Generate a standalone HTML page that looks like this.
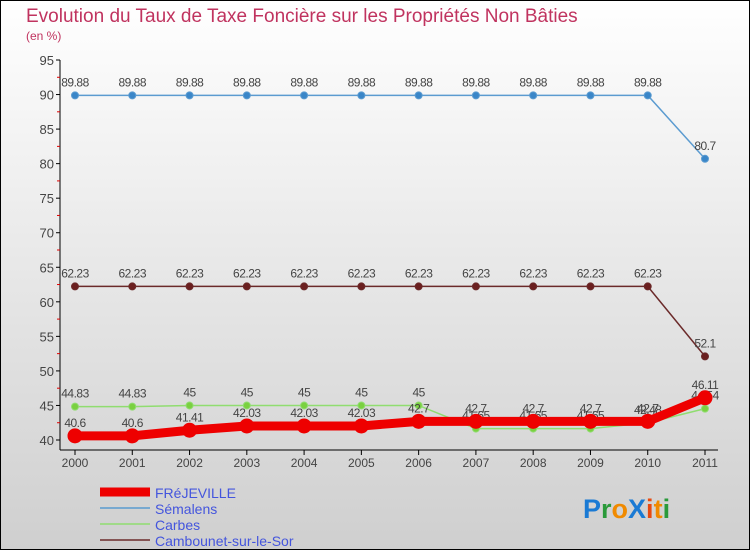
<!DOCTYPE html>
<html><head><meta charset="utf-8"><style>
body{margin:0}
svg text{font-family:"Liberation Sans",sans-serif}
</style></head><body>
<svg width="750" height="550" xmlns="http://www.w3.org/2000/svg">
<defs><linearGradient id="bg" x1="0" y1="0" x2="0" y2="1"><stop offset="0" stop-color="#ffffff"/><stop offset="1" stop-color="#cfcfcf"/></linearGradient></defs>
<rect x="0.5" y="0.5" width="749" height="549" fill="url(#bg)" stroke="#000"/>
<text x="26" y="22" font-size="19" fill="#c0335f">Evolution du Taux de Taxe Foncière sur les Propriétés Non Bâties</text>
<text x="26" y="40" font-size="12" fill="#c0335f">(en %)</text>
<g id="axes"></g>
<g id="series"></g>
<g id="legend"></g>
<text x="583" y="518" font-size="27" font-weight="bold"><tspan fill="#1a7ad4">P</tspan><tspan fill="#2a9a3a">r</tspan><tspan fill="#f08a00">o</tspan><tspan fill="#1a7ad4">X</tspan><tspan fill="#e84a10">i</tspan><tspan fill="#f08a00">t</tspan><tspan fill="#2a9a3a">i</tspan></text>
</svg>
<script>
const years=[2000,2001,2002,2003,2004,2005,2006,2007,2008,2009,2010,2011];
const yTicks=[40,45,50,55,60,65,70,75,80,85,90,95];
const frejeville=[40.6,40.6,41.41,42.03,42.03,42.03,42.7,42.7,42.7,42.7,42.7,46.11];
const semalens=[89.88,89.88,89.88,89.88,89.88,89.88,89.88,89.88,89.88,89.88,89.88,80.7];
const carbes=[44.83,44.83,45,45,45,45,45,41.65,41.65,41.65,42.48,44.54];
const cambounet=[62.23,62.23,62.23,62.23,62.23,62.23,62.23,62.23,62.23,62.23,62.23,52.1];
const seriesNames=["FRéJEVILLE","Sémalens","Carbes","Cambounet-sur-le-Sor"];
const NS="http://www.w3.org/2000/svg";
const X=i=>75+i*(630/11);
const Y=v=>440-(v-40)*(380/55);
function mk(tag,attrs,parent,txt){const e=document.createElementNS(NS,tag);for(const k in attrs)e.setAttribute(k,attrs[k]);if(txt!==undefined)e.textContent=txt;parent.appendChild(e);return e;}
const ax=document.getElementById('axes');
let e=mk('line',{x1:60,y1:60,x2:60,y2:450,stroke:'#000'},ax);

e=mk('line',{x1:60,y1:450,x2:718,y2:450,stroke:'#000'},ax);

yTicks.forEach(v=>{mk('line',{x1:56,y1:Y(v),x2:60,y2:Y(v),stroke:'#000'},ax);
 if(v<95)mk('line',{x1:57,y1:Y(v+2.5),x2:60,y2:Y(v+2.5),stroke:'#d00'},ax);
 const t=mk('text',{x:54,y:Y(v)+5,'text-anchor':'end','font-size':13,fill:'#444'},ax,v);
 });
years.forEach((y,i)=>{mk('line',{x1:X(i),y1:450,x2:X(i),y2:455,stroke:'#000'},ax);
 const t=mk('text',{x:X(i),y:467,'text-anchor':'middle','font-size':12,fill:'#444'},ax,y);
 });
const sg=document.getElementById('series');
function draw(vals,color,w,r,name,ptFill){
 const g=mk('g',{},sg);
 mk('polyline',{points:vals.map((v,i)=>X(i)+','+Y(v)).join(' '),fill:'none',stroke:color,'stroke-width':w},g);
 vals.forEach((v,i)=>{const c=mk('circle',{cx:X(i),cy:Y(v),r:r,fill:ptFill,stroke:color},g);
  
  mk('text',{x:X(i),y:Y(v)-9,'text-anchor':'middle','font-size':12,fill:'#444','letter-spacing':'-0.5'},g,v);});
}
draw(semalens,'#5b9bd0',1.5,3.5,'semalens-series','#3a86c8');
draw(cambounet,'#6b2a2a',1.5,3.5,'cambounet-series','#6b1f1f');
draw(carbes,'#90dd70',1.5,3.5,'carbes-series','#7ad040');
draw(frejeville,'#ee0000',9,7,'frejeville-series','#ee0000');
const lg=document.getElementById('legend');
const lc=['#ee0000','#5b9bd0','#90dd70','#6b2a2a'],lw=[9,1.5,1.5,1.5];
seriesNames.forEach((n,i)=>{const y=492+i*16;
 const g=mk('g',{},lg);
 mk('line',{x1:100,y1:y,x2:150,y2:y,stroke:lc[i],'stroke-width':lw[i]},g);
 mk('text',{x:155,y:y+6,'font-size':14,fill:'#4455dd'},g,n);});
</script>
</body></html>
